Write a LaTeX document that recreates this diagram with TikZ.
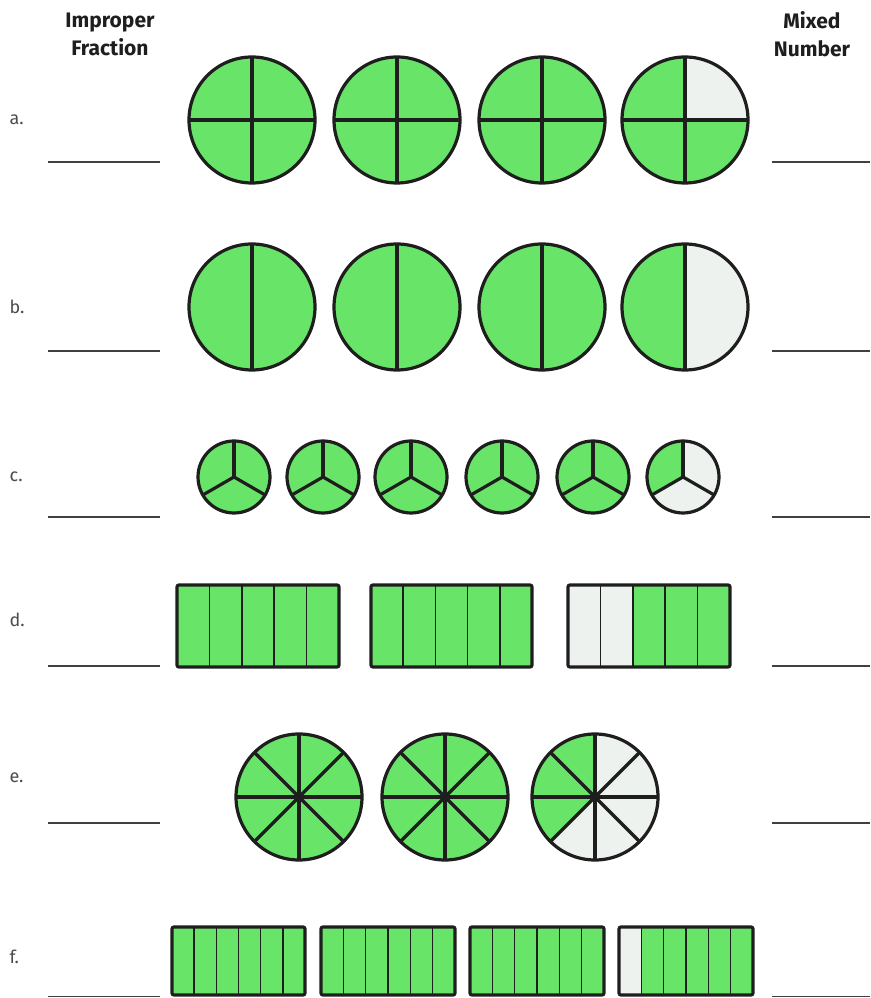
\documentclass[tikz,border=0pt]{standalone}
\usepackage{fontspec}
\setmainfont{Fira Sans}
\definecolor{greenc}{HTML}{68E468}
\definecolor{lightc}{HTML}{EEF2EE}
\definecolor{inkc}{HTML}{1E1E1E}
\tikzset{
  outline/.style={draw=inkc, line width=3.2pt},
  divline/.style={draw=inkc, line width=3.2pt},
  bardiv/.style={draw=inkc, line width=1.6pt},
  head/.style={font=\fontsize{21}{28}\selectfont\bfseries, text=inkc, align=center},
  lab/.style={font=\fontsize{18}{20}\selectfont, text=black!70, anchor=west},
  answer/.style={draw=black!75, line width=1.4pt},
}
\newcommand\fpie[5]{% x y r n green
  \fill[lightc] (#1,#2) circle (#3);
  \fill[greenc] (#1,#2) -- ++(90:#3) arc[start angle=90, end angle={90+360*#5/#4}, radius=#3] -- cycle;
  \foreach \k in {1,...,#4} \draw[divline] (#1,#2) -- ++({90+360*\k/#4}:#3);
  \draw[outline] (#1,#2) circle (#3);
}
\newcommand\fbar[6]{% x1 y1 x2 y2 n light
  \fill[greenc] (#1,#2) rectangle (#3,#4);
  \fill[lightc] (#1,#2) rectangle ({#1+(#3-#1)*#6/#5},#4);
  \foreach \k in {1,...,\numexpr#5-1\relax} \draw[bardiv] ({#1+(#3-#1)*\k/#5},#2) -- ({#1+(#3-#1)*\k/#5},#4);
  \draw[outline, rounded corners=2pt] (#1,#2) rectangle (#3,#4);
}
\begin{document}
\begin{tikzpicture}[x=1pt,y=1pt]
\useasboundingbox (0,0) rectangle (870,998);
\fill[white] (0,0) rectangle (870,998);
% headers
\node[head] (h1) at (110,964) {Improper\\Fraction};
\node[head] (h2) at (812,964) {Mixed\\Number};
% labels
\node[lab] (la) at (6,878) {a.};
\node[lab] (lb) at (6,691) {b.};
\node[lab] (lc) at (6,521) {c.};
\node[lab] (ld) at (6,378) {d.};
\node[lab] (le) at (6,220) {e.};
\node[lab] (lf) at (6,41) {f.};
% answer lines
\foreach \yy in {836,647,481,332,175,1.5} {
  \draw[answer] (48,\yy) -- (160,\yy);
  \draw[answer] (772,\yy) -- (870,\yy);
}
% row a
\fpie{252}{878}{63}{4}{4}
\fpie{397}{878}{63}{4}{4}
\fpie{542}{878}{63}{4}{4}
\fpie{685}{878}{63}{4}{3}
% row b
\fpie{252}{691}{63}{2}{2}
\fpie{397}{691}{63}{2}{2}
\fpie{542}{691}{63}{2}{2}
\fpie{685}{691}{63}{2}{1}
% row c
\fpie{234}{521}{36}{3}{3}
\fpie{323}{521}{36}{3}{3}
\fpie{411}{521}{36}{3}{3}
\fpie{502}{521}{36}{3}{3}
\fpie{593}{521}{36}{3}{3}
\fpie{683}{521}{36}{3}{1}
% row d
\fbar{177}{331}{339}{413}{5}{0}
\fbar{371}{331}{532}{413}{5}{0}
\fbar{568}{331}{730}{413}{5}{2}
% row e
\fpie{299}{201}{63}{8}{8}
\fpie{445}{201}{63}{8}{8}
\fpie{595}{201}{63}{8}{3}
% row f
\fbar{172}{3}{305}{71}{6}{0}
\fbar{321}{3}{455}{71}{6}{0}
\fbar{470}{3}{604}{71}{6}{0}
\fbar{619}{3}{753}{71}{6}{1}
\end{tikzpicture}
\end{document}
